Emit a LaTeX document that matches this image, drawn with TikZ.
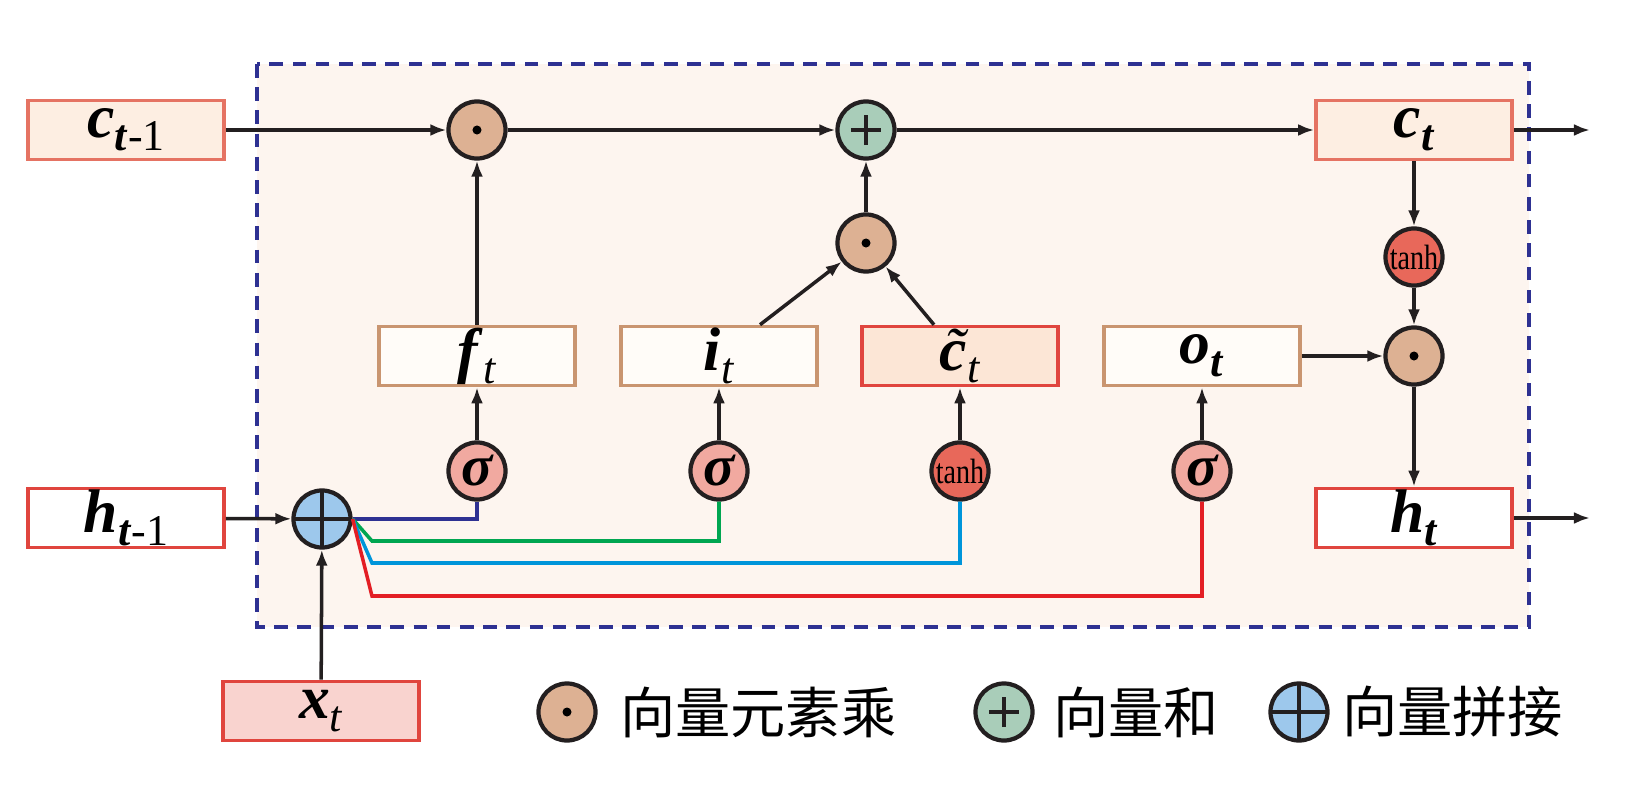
\documentclass[tikz,border=0pt]{standalone}
\usepackage{fontspec}
\usepackage{graphicx}
\setmainfont{Liberation Serif}
\newfontfamily\cjk{Noto Sans CJK SC}
\usetikzlibrary{arrows.meta,positioning}
\definecolor{bgfill}{HTML}{FDF5EF}
\definecolor{dashcol}{HTML}{2E3192}
\definecolor{linecol}{HTML}{231F20}
\definecolor{redline}{HTML}{E0453E}
\definecolor{saldraw}{HTML}{E57363}
\definecolor{gatedraw}{HTML}{C99570}
\definecolor{gatefill}{HTML}{FFFCF8}
\definecolor{cfill}{HTML}{FDEEE2}
\definecolor{ctilfill}{HTML}{FCE6D6}
\definecolor{xfill}{HTML}{F9D3CF}
\definecolor{mulfill}{HTML}{DDB193}
\definecolor{addfill}{HTML}{A9CDB9}
\definecolor{catfill}{HTML}{9DC8EC}
\definecolor{sigfill}{HTML}{F1A9A0}
\definecolor{tanhfill}{HTML}{E8685A}
\definecolor{navyl}{HTML}{2E3192}
\definecolor{greenl}{HTML}{00A651}
\definecolor{bluel}{HTML}{0095DA}
\definecolor{redl}{HTML}{E31E24}
\newcommand{\vlab}[2]{\textbf{\textit{#1}}\raisebox{-0.45ex}{\fontsize{12.5}{12.5}\selectfont #2}}
\newcommand{\bt}{\textbf{\textit{t}}}
\newcommand{\tilc}{\rlap{\hspace{0.08em}\mdseries\textit{˜}}c}
\tikzset{
  arr/.style={draw=linecol, line width=1pt, -{Latex[length=1.6mm,width=1.2mm]}},
  vbox/.style={rectangle, line width=1pt, minimum width=19.6mm, minimum height=5.9mm, inner sep=0pt, font=\fontsize{17.5}{17.5}\selectfont},
  cbox/.style={vbox, draw=saldraw, fill=cfill},
  gatebox/.style={vbox, draw=gatedraw, fill=gatefill},
  ctilbox/.style={vbox, draw=redline, fill=ctilfill},
  hbox/.style={vbox, draw=redline, fill=white},
  xbox/.style={vbox, draw=redline, fill=xfill},
  op/.style={circle, draw=linecol, line width=1.2pt, minimum size=5.7mm, inner sep=0pt},
  mulop/.style={op, fill=mulfill, path picture={\fill[black] (path picture bounding box.center) circle (0.45mm);}},
  addop/.style={op, fill=addfill, path picture={\draw[line width=1.2pt] ([xshift=-1.5mm]path picture bounding box.center) -- ([xshift=1.5mm]path picture bounding box.center) ([yshift=-1.5mm]path picture bounding box.center) -- ([yshift=1.5mm]path picture bounding box.center);}},
  catop/.style={op, fill=catfill, path picture={\draw[line width=1.2pt] (path picture bounding box.north) -- (path picture bounding box.south) (path picture bounding box.west) -- (path picture bounding box.east);}},
  sigop/.style={op, fill=sigfill, font=\fontsize{16.5}{16.5}\selectfont\bfseries\itshape},
  tanhop/.style={op, fill=tanhfill, font=\fontsize{10}{10}\selectfont},
  wire/.style={line width=1pt},
  legtxt/.style={inner sep=0pt, font=\cjk\fontsize{15.7}{16}\selectfont}
}
\begin{document}
\begin{tikzpicture}[x=0.01cm,y=-0.01cm]
\useasboundingbox (0,0) rectangle (1629,806);
\draw[fill=bgfill, draw=dashcol, line width=1.4pt, dash pattern=on 3.9pt off 2.7pt] (257,64) rectangle (1529,627);
\node[cbox] (cprev) at (126,130) {\vlab{c}{\bt-1}};
\node[hbox] (hprev) at (126,518) {\vlab{h}{\bt-1}};
\node[xbox] (xt) at (321,711) {\vlab{x}{\textit{t}}};
\node[cbox] (ct) at (1414,130) {\vlab{c}{\bt}};
\node[hbox] (ht) at (1414,518) {\vlab{h}{\bt}};
\node[gatebox] (ft) at (477,356) {\vlab{f}{\textit{t}}};
\node[gatebox] (it) at (719,356) {\vlab{i}{\textit{t}}};
\node[ctilbox] (ctil) at (960,356) {\vlab{\tilc}{\textit{t}}};
\node[gatebox] (ot) at (1202,356) {\vlab{o}{\bt}};
\node[mulop] (m1) at (477,130) {};
\node[addop] (add) at (866,130) {};
\node[mulop] (m2) at (866,243) {};
\node[tanhop] (th2) at (1414,257) {\scalebox{0.8}[1]{tanh}};
\node[mulop] (m3) at (1414,356) {};
\node[catop] (cat) at (322,519) {};
\node[sigop] (sf) at (477,471) {σ};
\node[sigop] (si) at (719,471) {σ};
\node[tanhop] (tc) at (960,471) {\scalebox{0.8}[1]{tanh}};
\node[sigop] (so) at (1202,471) {σ};
\coordinate (outc) at (1590,130);
\coordinate (outh) at (1590,518);
\draw[arr] (cprev) -- (m1);
\draw[arr] (m1) -- (add);
\draw[arr] (add) -- (ct);
\draw[arr] (ct) -- (outc);
\draw[arr] (ft) -- (m1);
\draw[arr] (m2) -- (add);
\draw[arr] ([xshift=4.1mm]it.north) -- (m2);
\draw[arr] ([xshift=-2.6mm]ctil.north) -- (m2);
\draw[arr] (ct) -- (th2);
\draw[arr] (th2) -- (m3);
\draw[arr] (ot) -- (m3);
\draw[arr] (m3) -- (ht);
\draw[arr] (ht) -- (outh);
\draw[arr] (hprev) -- (cat);
\draw[arr] (xt) -- (cat);
\draw[arr] (sf) -- (ft);
\draw[arr] (si) -- (it);
\draw[arr] (tc) -- (ctil);
\draw[arr] (so) -- (ot);
\draw[wire, navyl] (cat.east) -| (sf.south);
\draw[wire, greenl] (cat.east) -- (372,541) -| (si.south);
\draw[wire, bluel] (cat.east) -- (372,563) -| (tc.south);
\draw[wire, redl] (cat.east) -- (372,596) -| (so.south);
\node[mulop] (lgm) at (567,712) {};
\node[legtxt, right=2.2mm of lgm] (lgmt) {向量元素乘};
\node[addop] (lga) at (1004,712) {};
\node[legtxt, right=1.8mm of lga] (lgat) {向量和};
\node[catop] (lgc) at (1299,712) {};
\node[legtxt, right=1.2mm of lgc] (lgct) {向量拼接};
\end{tikzpicture}
\end{document}
